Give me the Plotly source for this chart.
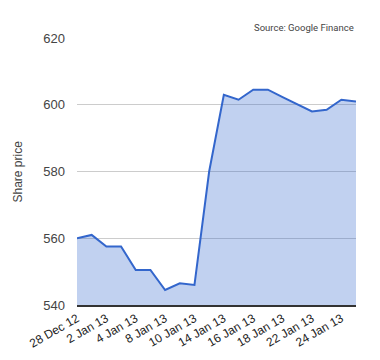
import plotly.graph_objects as go

dates = ["28 Dec 12", "31 Dec 12", "2 Jan 13", "3 Jan 13", "4 Jan 13", "7 Jan 13",
         "8 Jan 13", "9 Jan 13", "10 Jan 13", "11 Jan 13", "14 Jan 13", "15 Jan 13",
         "16 Jan 13", "17 Jan 13", "18 Jan 13", "21 Jan 13", "22 Jan 13", "23 Jan 13",
         "24 Jan 13", "25 Jan 13"]
prices = [560.0, 561.0, 557.5, 557.5, 550.5, 550.5, 544.5, 546.5, 546.0, 580.0,
          603.0, 601.5, 604.5, 604.5, 602.3, 600.2, 598.0, 598.5, 601.5, 601.0]
tick_labels = dates[::2]
y_ticks = [540, 560, 580, 600, 620]

fig = go.Figure()
fig.add_trace(go.Scatter(
    x=dates, y=prices, mode="lines",
    line=dict(color="#3366cc", width=2),
    fill="tozeroy", fillcolor="rgba(51,102,204,0.30)",
    hoverinfo="x+y",
))

fig.update_layout(
    width=372, height=352,
    margin=dict(l=69, r=24, t=30, b=55),
    paper_bgcolor="white", plot_bgcolor="white",
    showlegend=False,
    font=dict(family="Liberation Sans, Arial, sans-serif", size=12, color="#444"),
    xaxis=dict(
        type="category", range=[0, len(dates) - 1],
        tickmode="array", tickvals=tick_labels, ticktext=tick_labels,
        tickangle=-30, tickfont=dict(size=12, color="#222"),
        showgrid=False, zeroline=False,
        showline=True, linecolor="#333", linewidth=2,
        ticks="", automargin=False,
    ),
    yaxis=dict(
        range=[540, 620], tickvals=y_ticks,
        showgrid=True, gridcolor="#cccccc", gridwidth=1,
        zeroline=False, showline=False, ticks="",
        tickfont=dict(size=13, color="#444"),
        ticklabelstandoff=11,
        automargin=False,
    ),
    annotations=[
        dict(
            text="Source: Google Finance", xref="paper", yref="paper",
            x=1.0, y=1.0, xanchor="right", yanchor="bottom", yshift=3,
            showarrow=False, font=dict(family="Roboto, sans-serif", size=9.5, color="#444"),
        ),
        dict(
            text="Share price", xref="paper", yref="paper",
            x=0, y=0.5, xanchor="center", yanchor="middle", xshift=-60,
            textangle=-90, showarrow=False,
            font=dict(size=12, color="#444"),
        ),
    ],
)

fig.write_html("out.html")
